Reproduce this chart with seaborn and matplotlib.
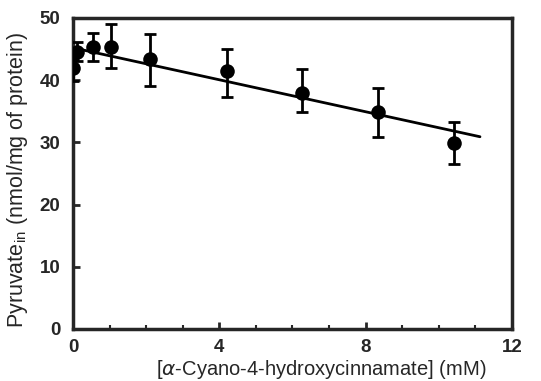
import matplotlib
matplotlib.use("Agg")
import matplotlib.pyplot as plt
import seaborn as sns
import numpy as np
import pandas as pd
from matplotlib.ticker import MultipleLocator

conc = [0.0, 0.1, 0.55, 1.05, 2.1, 4.2, 6.27, 8.34, 10.43]
pyruvate = [41.9, 44.6, 45.4, 45.3, 43.4, 41.4, 37.9, 34.8, 29.9]
err_low = [2.0, 1.5, 2.4, 3.3, 4.3, 4.1, 3.1, 4.0, 3.4]
err_high = [1.5, 1.5, 2.2, 3.7, 4.0, 3.6, 3.9, 3.9, 3.3]
fit_x = [0.23, 11.13]
fit_y = [44.9, 30.9]

x_ticks = [0, 4, 8, 12]
y_ticks = [0, 10, 20, 30, 40, 50]

sns.set_style("ticks")
plt.rcParams['font.family'] = ['Liberation Sans', 'DejaVu Sans']

fig = plt.figure(figsize=(5.41, 3.81), dpi=100)
ax = fig.add_axes([0.135, 0.1365, 0.811, 0.8165])

df = pd.DataFrame({"conc": conc, "pyr": pyruvate})
fit = pd.DataFrame({"x": fit_x, "y": fit_y})

sns.lineplot(data=fit, x="x", y="y", color="black", linewidth=2.0, ax=ax)
ax.errorbar(conc, pyruvate, yerr=[err_low, err_high], fmt="none",
            ecolor="black", elinewidth=2.0, capsize=4, capthick=2.0, zorder=3)
sns.scatterplot(data=df, x="conc", y="pyr", color="black", s=110,
                edgecolor="black", linewidth=0, ax=ax, zorder=4)

ax.set_xlim(0, 12)
ax.set_ylim(0, 50)
ax.set_xticks(x_ticks)
ax.set_yticks(y_ticks)
ax.xaxis.set_minor_locator(MultipleLocator(1))
ax.tick_params(axis="x", which="major", direction="in", length=5, width=2,
               labelsize=13.5, pad=7)
ax.tick_params(axis="y", which="major", direction="in", length=5, width=2,
               labelsize=13.5, pad=9)
ax.tick_params(axis="x", which="minor", direction="in", length=3, width=1.5)
for lab in ax.get_xticklabels() + ax.get_yticklabels():
    lab.set_fontweight("bold")
for sp in ax.spines.values():
    sp.set_visible(True)
    sp.set_linewidth(2.5)

ax.set_xlabel("[$\\alpha$-Cyano-4-hydroxycinnamate] (mM)", fontsize=14.5,
              fontweight="medium")
ax.set_ylabel("Pyruvate$_{\\mathregular{in}}$ (nmol/mg of protein)", fontsize=15.5,
              fontweight="medium")
ax.xaxis.set_label_coords(0.565, -0.094)
ax.yaxis.set_label_coords(-0.097, 0.479)

fig.savefig("out.png", dpi=100)
